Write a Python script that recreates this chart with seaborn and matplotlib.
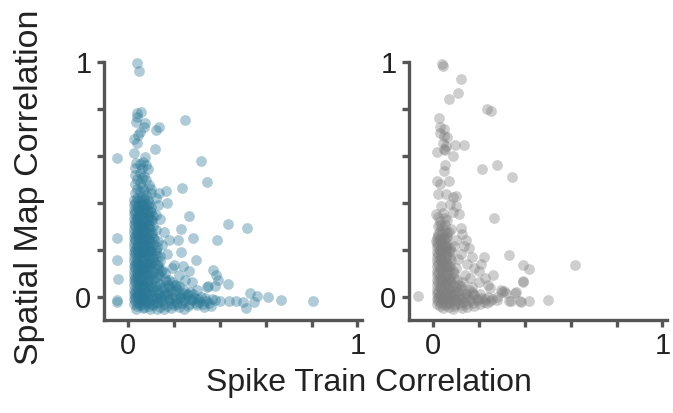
import matplotlib
matplotlib.use("Agg")
import matplotlib.pyplot as plt
import seaborn as sns
import pandas as pd

# ---------------- data ----------------
left_outliers = [
    (0.040, 0.995), (0.048, 0.960), (0.040, 0.784), (0.058, 0.787), (0.040, 0.765),
    (0.034, 0.744), (0.075, 0.740), (0.069, 0.723), (0.136, 0.725), (0.122, 0.712),
    (0.250, 0.751), (0.051, 0.700), (0.044, 0.687), (0.027, 0.673), (0.037, 0.655),
    (0.119, 0.627), (-0.048, 0.590), (0.027, 0.611), (0.320, 0.578), (0.072, 0.594),
    (0.035, 0.570), (0.050, 0.565), (0.065, 0.575), (0.080, 0.560), (0.030, 0.550),
    (0.060, 0.548), (0.085, 0.545),
    (0.342, 0.490), (0.235, 0.462), (0.165, 0.448), (0.136, 0.443), (0.169, 0.400),
    (0.100, 0.458), (0.264, 0.343), (0.122, 0.348), (0.231, 0.286), (0.155, 0.275),
    (0.282, 0.250), (0.389, 0.239), (-0.048, 0.250), (0.217, 0.240), (0.179, 0.240),
    (0.231, 0.190), (-0.048, 0.155), (0.297, 0.155), (0.200, 0.136), (0.264, 0.107),
    (0.370, 0.115), (-0.045, 0.076), (0.349, 0.043), (0.391, 0.072), (-0.048, -0.014),
    (-0.047, -0.024), (0.434, 0.308), (0.519, 0.293), (0.384, 0.093), (0.342, 0.039),
    (0.377, 0.043), (0.434, 0.054), (0.533, 0.017), (0.562, 0.004), (0.609, -0.004),
    (0.668, -0.014), (0.806, -0.021), (0.516, -0.050),
    (0.130, 0.390), (0.140, 0.330), (0.110, 0.300), (0.150, 0.220), (0.120, 0.200),
    (0.170, 0.180), (0.140, 0.150), (0.190, 0.120), (0.160, 0.100), (0.220, 0.090),
    (0.250, 0.070), (0.280, 0.060), (0.210, 0.050), (0.300, 0.030), (0.120, 0.420),
    (0.110, 0.250), (0.130, 0.120), (0.180, 0.070), (0.240, 0.130), (0.100, 0.360),
]

left_cluster = [
    (0.03, 0.520), (0.05, 0.525), (0.07, 0.515),
    (0.04, 0.500), (0.06, 0.505), (0.08, 0.495),
    (0.03, 0.480), (0.05, 0.485), (0.09, 0.475),
    (0.04, 0.460), (0.06, 0.465), (0.07, 0.455),
    (0.03, 0.440), (0.05, 0.445), (0.08, 0.435), (0.10, 0.440),
    (0.04, 0.420), (0.06, 0.425), (0.07, 0.415),
    (0.03, 0.400), (0.05, 0.405), (0.08, 0.395), (0.09, 0.400),
    (0.04, 0.380), (0.06, 0.385), (0.07, 0.375), (0.10, 0.380),
    (0.03, 0.360), (0.05, 0.365), (0.06, 0.355), (0.08, 0.360),
    (0.04, 0.340), (0.05, 0.345), (0.07, 0.335), (0.09, 0.340), (0.11, 0.345),
    (0.03, 0.320), (0.04, 0.325), (0.06, 0.315), (0.08, 0.320), (0.10, 0.325),
    (0.03, 0.300), (0.05, 0.305), (0.06, 0.295), (0.07, 0.300), (0.09, 0.305),
    (0.04, 0.280), (0.05, 0.285), (0.07, 0.275), (0.08, 0.280), (0.12, 0.285),
    (0.03, 0.260), (0.04, 0.265), (0.06, 0.255), (0.08, 0.260), (0.10, 0.265),
    (0.03, 0.240), (0.05, 0.245), (0.06, 0.235), (0.07, 0.240), (0.09, 0.245), (0.13, 0.235),
    (0.04, 0.220), (0.05, 0.225), (0.07, 0.215), (0.08, 0.220), (0.11, 0.225),
    (0.03, 0.200), (0.04, 0.205), (0.06, 0.195), (0.07, 0.200), (0.09, 0.205), (0.10, 0.195),
    (0.03, 0.180), (0.05, 0.185), (0.06, 0.175), (0.08, 0.180), (0.12, 0.185), (0.14, 0.175),
    (0.04, 0.160), (0.05, 0.165), (0.07, 0.155), (0.09, 0.160), (0.11, 0.165),
    (0.03, 0.140), (0.04, 0.145), (0.06, 0.135), (0.08, 0.140), (0.10, 0.145), (0.13, 0.135),
    (0.03, 0.120), (0.05, 0.125), (0.06, 0.115), (0.07, 0.120), (0.09, 0.125), (0.15, 0.115),
    (0.04, 0.100), (0.05, 0.105), (0.07, 0.095), (0.08, 0.100), (0.11, 0.105), (0.13, 0.095),
    (0.03, 0.080), (0.04, 0.085), (0.06, 0.075), (0.09, 0.080), (0.12, 0.085), (0.16, 0.075),
    (0.03, 0.060), (0.05, 0.065), (0.06, 0.055), (0.08, 0.060), (0.10, 0.065), (0.14, 0.055),
    (0.19, 0.060),
    (0.04, 0.040), (0.05, 0.045), (0.07, 0.035), (0.09, 0.040), (0.12, 0.045), (0.15, 0.035),
    (0.18, 0.040), (0.22, 0.045),
    (0.03, 0.020), (0.05, 0.025), (0.06, 0.015), (0.08, 0.020), (0.11, 0.025), (0.13, 0.015),
    (0.17, 0.020), (0.20, 0.025), (0.24, 0.015), (0.27, 0.020),
    (0.03, 0.000), (0.04, 0.005), (0.06, -0.005), (0.07, 0.000), (0.09, 0.005), (0.12, -0.005),
    (0.14, 0.000), (0.16, 0.005), (0.19, -0.005), (0.23, 0.000), (0.26, 0.005), (0.29, -0.005),
    (0.32, 0.000),
    (0.03, -0.020), (0.05, -0.015), (0.06, -0.025), (0.08, -0.020), (0.10, -0.015), (0.13, -0.025),
    (0.15, -0.020), (0.18, -0.015), (0.21, -0.025), (0.25, -0.020), (0.28, -0.015), (0.31, -0.025),
    (0.34, -0.018), (0.38, -0.016), (0.40, -0.020), (0.44, -0.020), (0.47, -0.018), (0.50, -0.025),
    (0.55, -0.022),
    (0.04, -0.040), (0.05, -0.035), (0.07, -0.045), (0.09, -0.040), (0.11, -0.035), (0.14, -0.045),
    (0.17, -0.040), (0.20, -0.035), (0.22, -0.045), (0.26, -0.040), (0.30, -0.035), (0.33, -0.045),
    (0.36, -0.040),
]

left_core = [
    (0.025, 0.410), (0.045, 0.412), (0.065, 0.408), (0.085, 0.411),
    (0.025, 0.390), (0.045, 0.388), (0.065, 0.392), (0.085, 0.389),
    (0.025, 0.370), (0.045, 0.372), (0.065, 0.368), (0.085, 0.371), (0.095, 0.366),
    (0.025, 0.350), (0.045, 0.348), (0.065, 0.352), (0.085, 0.349),
    (0.025, 0.330), (0.045, 0.332), (0.065, 0.328), (0.085, 0.331), (0.105, 0.327),
    (0.025, 0.310), (0.045, 0.308), (0.065, 0.312), (0.085, 0.309),
    (0.025, 0.290), (0.045, 0.292), (0.065, 0.288), (0.085, 0.291), (0.095, 0.287),
    (0.025, 0.270), (0.045, 0.268), (0.065, 0.272), (0.085, 0.269), (0.105, 0.273),
    (0.025, 0.250), (0.045, 0.252), (0.065, 0.248), (0.085, 0.251), (0.115, 0.247),
    (0.025, 0.230), (0.045, 0.228), (0.065, 0.232), (0.085, 0.229), (0.095, 0.233),
    (0.025, 0.210), (0.045, 0.212), (0.065, 0.208), (0.085, 0.211), (0.105, 0.207), (0.125, 0.212),
    (0.025, 0.190), (0.045, 0.188), (0.065, 0.192), (0.085, 0.189), (0.095, 0.193),
    (0.025, 0.170), (0.045, 0.172), (0.065, 0.168), (0.085, 0.171), (0.105, 0.167), (0.125, 0.172),
    (0.025, 0.150), (0.045, 0.148), (0.065, 0.152), (0.085, 0.149), (0.095, 0.153), (0.115, 0.148),
    (0.025, 0.130), (0.045, 0.132), (0.065, 0.128), (0.085, 0.131), (0.105, 0.127), (0.125, 0.133),
    (0.025, 0.110), (0.045, 0.108), (0.065, 0.112), (0.085, 0.109), (0.095, 0.113), (0.145, 0.108),
    (0.025, 0.090), (0.045, 0.092), (0.065, 0.088), (0.085, 0.091), (0.105, 0.087), (0.135, 0.092),
    (0.025, 0.070), (0.045, 0.068), (0.065, 0.072), (0.085, 0.069), (0.115, 0.073), (0.165, 0.068),
    (0.025, 0.050), (0.045, 0.052), (0.065, 0.048), (0.085, 0.051), (0.105, 0.047), (0.135, 0.052),
    (0.175, 0.049), (0.205, 0.051),
    (0.025, 0.030), (0.045, 0.028), (0.065, 0.032), (0.085, 0.029), (0.105, 0.033), (0.125, 0.028),
    (0.155, 0.031), (0.185, 0.029), (0.215, 0.032), (0.245, 0.030),
    (0.025, 0.010), (0.045, 0.012), (0.065, 0.008), (0.085, 0.011), (0.105, 0.007), (0.135, 0.012),
    (0.155, 0.009), (0.175, 0.011), (0.205, 0.008), (0.225, 0.012), (0.255, 0.009), (0.285, 0.011),
    (0.025, -0.010), (0.045, -0.008), (0.065, -0.012), (0.085, -0.009), (0.105, -0.011), (0.125, -0.008),
    (0.145, -0.012), (0.175, -0.009), (0.205, -0.011), (0.225, -0.008), (0.245, -0.012), (0.275, -0.009),
    (0.305, -0.011), (0.335, -0.008), (0.365, -0.010),
    (0.025, -0.030), (0.045, -0.028), (0.065, -0.032), (0.085, -0.029), (0.105, -0.031), (0.125, -0.028),
    (0.155, -0.032), (0.185, -0.029), (0.215, -0.031), (0.235, -0.028), (0.265, -0.032), (0.295, -0.029),
    (0.325, -0.031), (0.355, -0.028),
    (0.035, -0.052), (0.065, -0.050), (0.095, -0.053), (0.125, -0.051), (0.155, -0.052), (0.185, -0.050),
    (0.245, -0.052),
]

right_outliers = [
    (0.040, 0.990), (0.045, 0.985), (0.123, 0.926), (0.109, 0.868), (0.071, 0.844),
    (0.237, 0.801), (0.252, 0.793), (0.026, 0.761), (0.031, 0.725), (0.047, 0.715),
    (0.031, 0.698), (0.061, 0.679), (0.047, 0.685), (0.043, 0.655), (0.095, 0.647),
    (0.137, 0.644), (0.057, 0.641), (0.047, 0.628), (0.018, 0.618), (0.051, 0.625),
    (0.085, 0.598), (0.052, 0.561), (0.046, 0.534), (0.213, 0.544), (0.277, 0.561),
    (0.345, 0.510),
    (0.017, 0.494), (0.030, 0.479), (0.070, 0.494), (0.020, 0.436), (0.057, 0.436),
    (0.085, 0.425), (0.099, 0.429), (0.035, 0.386), (0.075, 0.396), (0.099, 0.386),
    (0.014, 0.350), (0.042, 0.357), (0.085, 0.361), (0.113, 0.350), (0.028, 0.307),
    (0.050, 0.307), (0.078, 0.290), (0.120, 0.293), (0.128, 0.265), (0.021, 0.265),
    (0.042, 0.250), (0.014, 0.236), (0.050, 0.215), (0.142, 0.243), (0.092, 0.215),
    (0.135, 0.215), (0.156, 0.208), (0.028, 0.193), (0.078, 0.193), (0.035, 0.158),
    (0.265, 0.333), (0.330, 0.179), (0.390, 0.136), (0.418, 0.119), (0.617, 0.136),
    (0.393, 0.060), (0.359, 0.017), (0.390, 0.065), (-0.064, 0.004), (0.362, 0.021),
    (0.298, 0.028), (0.248, 0.036), (0.220, 0.168), (0.170, 0.168), (0.199, 0.107),
    (0.227, 0.079), (0.163, 0.079), (0.277, 0.000), (0.333, -0.021), (0.383, -0.024),
    (0.340, -0.021), (0.379, -0.021), (0.418, -0.021), (0.499, -0.014), (0.300, 0.020),
    (0.320, 0.015), (0.310, 0.025),
    (0.060, 0.270), (0.100, 0.240), (0.120, 0.180), (0.150, 0.140), (0.100, 0.120),
    (0.180, 0.120), (0.140, 0.090), (0.200, 0.060), (0.170, 0.040), (0.240, 0.050),
    (0.110, 0.160), (0.070, 0.130), (0.130, 0.060), (0.090, 0.080), (0.210, 0.140),
    (0.260, 0.090),
]

right_cluster = [
    (0.02, 0.340), (0.05, 0.335),
    (0.03, 0.320), (0.06, 0.325),
    (0.02, 0.300), (0.04, 0.295),
    (0.03, 0.280), (0.05, 0.285), (0.07, 0.275),
    (0.02, 0.260), (0.04, 0.265), (0.06, 0.255),
    (0.03, 0.240), (0.05, 0.245),
    (0.02, 0.220), (0.04, 0.225), (0.06, 0.215),
    (0.03, 0.200), (0.05, 0.205), (0.07, 0.195),
    (0.02, 0.180), (0.04, 0.185), (0.06, 0.175),
    (0.03, 0.160), (0.05, 0.165), (0.08, 0.155),
    (0.02, 0.140), (0.04, 0.145), (0.06, 0.135),
    (0.03, 0.120), (0.05, 0.125), (0.07, 0.115),
    (0.02, 0.100), (0.04, 0.105), (0.06, 0.095), (0.09, 0.100),
    (0.03, 0.080), (0.05, 0.085), (0.07, 0.075),
    (0.02, 0.060), (0.04, 0.065), (0.06, 0.055), (0.08, 0.060),
    (0.03, 0.040), (0.05, 0.045), (0.07, 0.035), (0.10, 0.040), (0.12, 0.045),
    (0.02, 0.020), (0.04, 0.025), (0.06, 0.015), (0.08, 0.020), (0.11, 0.025), (0.14, 0.015),
    (0.17, 0.020),
    (0.02, 0.000), (0.03, 0.005), (0.05, -0.005), (0.07, 0.000), (0.09, 0.005), (0.12, -0.005),
    (0.15, 0.000), (0.18, 0.005), (0.21, -0.005), (0.24, 0.000),
    (0.02, -0.020), (0.04, -0.015), (0.06, -0.025), (0.08, -0.020), (0.10, -0.015), (0.13, -0.025),
    (0.16, -0.020), (0.19, -0.015), (0.22, -0.025), (0.25, -0.020), (0.28, -0.015),
    (0.03, -0.040), (0.05, -0.035), (0.07, -0.045), (0.09, -0.040), (0.12, -0.035), (0.15, -0.045),
    (0.18, -0.040),
]

right_core = [
    (0.015, 0.250), (0.035, 0.248), (0.055, 0.252),
    (0.015, 0.230), (0.035, 0.232), (0.055, 0.228),
    (0.015, 0.210), (0.035, 0.208), (0.055, 0.212), (0.075, 0.209),
    (0.015, 0.190), (0.035, 0.192), (0.055, 0.188),
    (0.015, 0.170), (0.035, 0.168), (0.055, 0.172), (0.075, 0.169),
    (0.015, 0.150), (0.035, 0.152), (0.055, 0.148),
    (0.015, 0.130), (0.035, 0.128), (0.055, 0.132), (0.075, 0.129),
    (0.015, 0.110), (0.035, 0.112), (0.055, 0.108), (0.085, 0.111),
    (0.015, 0.090), (0.035, 0.088), (0.055, 0.092), (0.075, 0.089),
    (0.015, 0.070), (0.035, 0.072), (0.055, 0.068), (0.075, 0.071), (0.105, 0.069),
    (0.015, 0.050), (0.035, 0.048), (0.055, 0.052), (0.085, 0.049), (0.115, 0.051),
    (0.015, 0.030), (0.035, 0.032), (0.055, 0.028), (0.075, 0.031), (0.095, 0.029), (0.125, 0.032),
    (0.155, 0.029),
    (0.015, 0.010), (0.035, 0.008), (0.055, 0.012), (0.075, 0.009), (0.095, 0.011), (0.115, 0.008),
    (0.145, 0.012), (0.175, 0.009), (0.205, 0.011),
    (0.015, -0.010), (0.035, -0.012), (0.055, -0.008), (0.075, -0.011), (0.095, -0.009), (0.115, -0.012),
    (0.135, -0.008), (0.165, -0.011), (0.195, -0.009), (0.225, -0.012), (0.255, -0.010),
    (0.015, -0.030), (0.035, -0.028), (0.055, -0.032), (0.075, -0.029), (0.095, -0.031), (0.115, -0.028),
    (0.145, -0.032), (0.175, -0.029), (0.205, -0.031), (0.235, -0.028),
    (0.045, -0.050), (0.085, -0.052), (0.125, -0.050),
]

tick_values = [0, 0.2, 0.4, 0.6, 0.8, 1.0]
tick_labels = ["0", "", "", "", "", "1"]
x_label = "Spike Train Correlation"
y_label = "Spatial Map Correlation"
left_color = "#2a7896"
right_color = "#7f7f7f"

# ---------------- build frames ----------------
left_df = pd.DataFrame(left_core + left_cluster + left_outliers, columns=["spike", "spatial"])
right_df = pd.DataFrame(right_core + right_cluster + right_outliers, columns=["spike", "spatial"])

# ---------------- figure ----------------
sns.set_style("ticks")
plt.rcParams["font.family"] = ["Liberation Sans", "DejaVu Sans"]

fig = plt.figure(figsize=(6.73, 4.13), dpi=100)
ax1 = fig.add_axes([104 / 673, 93 / 413, 258 / 673, 258 / 413])
ax2 = fig.add_axes([409 / 673, 93 / 413, 258 / 673, 258 / 413])

spine_c = "#555555"
for ax, df, col in [(ax1, left_df, left_color), (ax2, right_df, right_color)]:
    sns.scatterplot(data=df, x="spike", y="spatial", ax=ax, color=col,
                    alpha=0.38, s=60, linewidth=0, clip_on=False, legend=False)
    ax.set_xlim(-0.105, 1.02)
    ax.set_ylim(-0.1, 1.0)
    ax.set_xticks(tick_values)
    ax.set_xticklabels(tick_labels)
    ax.set_yticks(tick_values)
    ax.set_yticklabels(tick_labels)
    ax.set_xlabel("")
    ax.set_ylabel("")
    for side in ["top", "right"]:
        ax.spines[side].set_visible(False)
    for side in ["left", "bottom"]:
        ax.spines[side].set_linewidth(2.4)
        ax.spines[side].set_color(spine_c)
    ax.tick_params(axis="both", length=5, width=2.4, color=spine_c,
                   labelsize=21, labelcolor="#222222", pad=4)

fig.text(369 / 673, 1 - 383 / 413, x_label, ha="center", va="center",
         fontsize=23, color="#222222")
fig.text(30 / 673, 1 - 187 / 413, y_label, ha="center", va="center",
         rotation=90, fontsize=24.5, color="#222222")

fig.savefig("out.png", dpi=100)
